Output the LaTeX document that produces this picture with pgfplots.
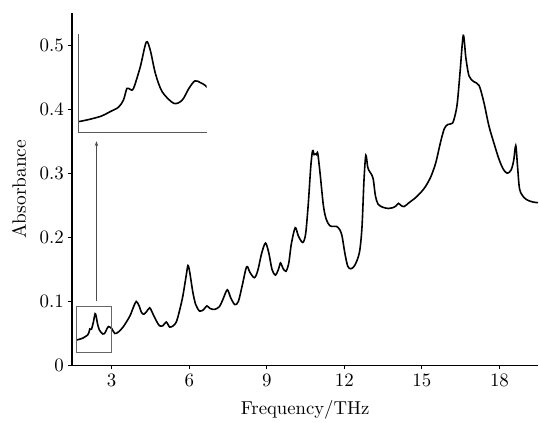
\documentclass[border=0pt]{standalone}
\usepackage{graphicx}
\usepackage{pgfplots}
\pgfplotsset{compat=1.18}
\usetikzlibrary{arrows.meta}

\pgfplotstableread{
f A
1.643 0.0398
1.758 0.0410
1.883 0.0427
1.972 0.0449
2.061 0.0472
2.114 0.0509
2.151 0.0569
2.186 0.0564
2.221 0.0569
2.293 0.0680
2.357 0.0808
2.400 0.0765
2.454 0.0646
2.526 0.0552
2.650 0.0492
2.740 0.0509
2.810 0.0569
2.875 0.0608
2.936 0.0598
3.000 0.0577
3.12 0.050
3.25 0.052
3.44 0.060
3.70 0.077
3.85 0.092
3.95 0.100
4.05 0.094
4.15 0.083
4.24 0.080
4.35 0.084
4.47 0.090
4.60 0.080
4.75 0.068
4.85 0.062
4.98 0.062
5.11 0.068
5.24 0.060
5.38 0.062
5.50 0.068
5.62 0.085
5.75 0.108
5.88 0.140
5.95 0.156
6.02 0.145
6.14 0.114
6.25 0.095
6.40 0.085
6.55 0.087
6.68 0.093
6.80 0.089
6.98 0.0875
7.17 0.092
7.30 0.103
7.47 0.118
7.60 0.106
7.76 0.095
7.90 0.100
8.05 0.125
8.22 0.154
8.35 0.145
8.52 0.137
8.65 0.148
8.80 0.175
8.95 0.191
9.08 0.175
9.20 0.150
9.33 0.141
9.45 0.150
9.53 0.160
9.62 0.152
9.74 0.147
9.85 0.160
9.95 0.190
10.10 0.215
10.22 0.202
10.39 0.192
10.50 0.205
10.60 0.250
10.70 0.310
10.77 0.335
10.83 0.329
10.88 0.330
10.92 0.329
10.97 0.331
11.06 0.300
11.19 0.249
11.30 0.228
11.44 0.218
11.60 0.217
11.70 0.217
11.82 0.212
11.91 0.202
12.02 0.175
12.13 0.155
12.25 0.151
12.40 0.156
12.58 0.176
12.68 0.215
12.76 0.290
12.83 0.328
12.90 0.310
12.94 0.305
13.05 0.298
13.12 0.290
13.20 0.265
13.30 0.252
13.48 0.247
13.70 0.245
13.86 0.246
14.00 0.249
14.09 0.253
14.18 0.250
14.31 0.248
14.50 0.254
14.76 0.262
15.00 0.272
15.15 0.280
15.35 0.295
15.54 0.317
15.70 0.345
15.86 0.369
16.00 0.376
16.18 0.378
16.28 0.390
16.37 0.410
16.48 0.460
16.60 0.515
16.70 0.480
16.82 0.452
17.00 0.443
17.21 0.437
17.40 0.410
17.59 0.374
17.80 0.345
17.98 0.322
18.15 0.306
18.30 0.300
18.45 0.305
18.55 0.320
18.63 0.343
18.70 0.310
18.78 0.275
18.95 0.262
19.14 0.257
19.30 0.255
19.49 0.254
}\spectrum

\begin{document}
\begin{tikzpicture}
\path (0,0) rectangle (539bp,421bp);
\begin{axis}[
    at={(72bp,55bp)}, anchor=south west,
    scale only axis,
    width=467bp, height=353bp,
    xmin=1.46, xmax=19.5,
    ymin=0, ymax=0.55,
    axis lines=left,
    axis line style={-, line width=1.5bp},
    xtick={3,6,9,12,15,18},
    ytick={0,0.1,0.2,0.3,0.4,0.5},
    tick align=outside,
    major tick length=4bp,
    tick style={line width=1bp, black},
    xticklabel={\scalebox{1.9}{$\pgfmathprintnumber{\tick}$}},
    yticklabel={\scalebox{1.9}{$\pgfmathprintnumber{\tick}$}},
    every tick label/.append style={inner sep=0pt},
    xticklabel style={anchor=north, yshift=-5bp},
    yticklabel style={anchor=east, xshift=-4bp},
    xlabel={\scalebox{1.88}{Frequency/THz}},
    ylabel={\scalebox{1.95}{Absorbance}},
    xlabel style={at={(rel axis cs:0.5,0)}, anchor=center, yshift=-44bp},
    ylabel style={at={(rel axis cs:0,0.5)}, anchor=center, yshift=53bp},
    clip=false,
]
\addplot[black, line width=1.6bp, smooth] table[x=f, y=A] {\spectrum};
\draw[gray!80!black, line width=0.8bp] (axis cs:1.65,0.020) rectangle (axis cs:3.0,0.092);
\draw[gray!60!black, line width=0.8bp, -{Stealth[length=5bp,width=3.5bp]}] (axis cs:2.41,0.1) -- (axis cs:2.41,0.35);
\end{axis}

\begin{axis}[
    at={(79bp,288bp)}, anchor=south west,
    scale only axis,
    width=128bp, height=99bp,
    xmin=1.64, xmax=3.0,
    ymin=0.034, ymax=0.085,
    axis lines=left,
    axis line style={-, line width=1bp, gray!70!black},
    xtick=\empty, ytick=\empty,
]
\addplot[black, line width=1.6bp, smooth] table[x=f, y=A] {\spectrum};
\end{axis}
\end{tikzpicture}
\end{document}
